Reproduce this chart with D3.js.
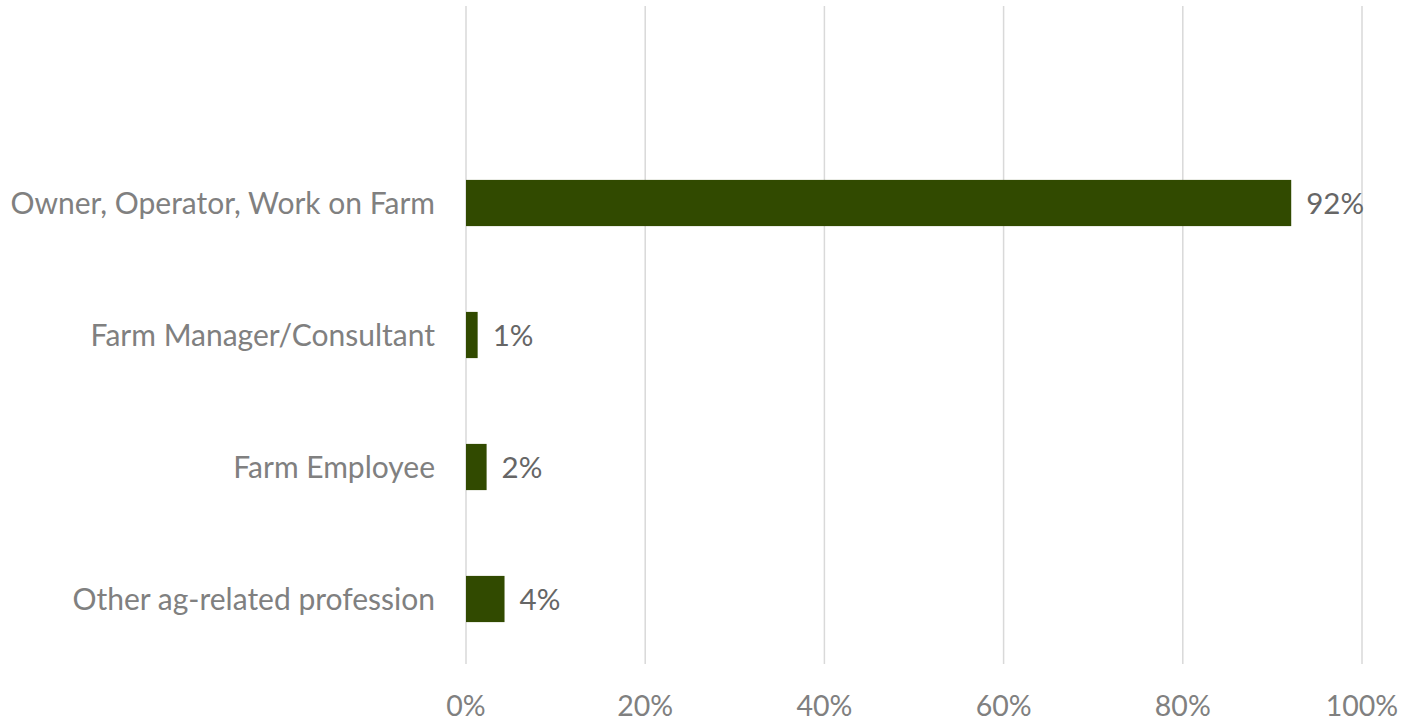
<!DOCTYPE html>
<html>
<head>
<meta charset="utf-8">
<script src="https://cdn.jsdelivr.net/npm/d3@7"></script>
<style>
  body { margin: 0; background: #fff; }
  text { font-family: "Lato", "Open Sans", sans-serif; }
</style>
</head>
<body>
<div id="chart"></div>
<script>
const categories = ['Owner, Operator, Work on Farm', 'Farm Manager/Consultant', 'Farm Employee', 'Other ag-related profession']
const values = [92.1, 1.3, 2.3, 4.3]
const labels = ['92%', '1%', '2%', '4%']
const ticks = [0, 20, 40, 60, 80, 100]

const width = 1411
const height = 723

const svg = d3.select('#chart').append('svg')
    .attr('width', width)
    .attr('height', height)

const x = d3.scaleLinear().domain([0, 100]).range([466, 1362])
const y = d3.scaleBand().domain(categories).range([137, 665])
    .paddingInner(0.65).paddingOuter(0.325)

// gridlines
svg.append('g').selectAll('line').data(ticks)
    .enter().append('line')
    .attr('x1', d => x(d)).attr('x2', d => x(d))
    .attr('y1', 6).attr('y2', 664)
    .attr('stroke', '#d9d9d9')
    .attr('stroke-width', 1.5)

// x tick labels
svg.append('g').selectAll('text').data(ticks)
    .enter().append('text')
    .attr('x', d => x(d))
    .attr('y', 716)
    .attr('text-anchor', 'middle')
    .attr('fill', '#808080')
    .style('font-size', '28.5px')
    .text(d => d + '%')

// bars
svg.append('g').selectAll('rect').data(values)
    .enter().append('rect')
    .attr('x', x(0))
    .attr('y', (d, i) => y(categories[i]))
    .attr('width', d => x(d) - x(0))
    .attr('height', y.bandwidth())
    .attr('fill', '#314a00')

// value labels
svg.append('g').selectAll('text').data(values)
    .enter().append('text')
    .attr('x', d => x(d) + 15)
    .attr('y', (d, i) => y(categories[i]) + y.bandwidth() / 2)
    .attr('dy', '0.36em')
    .attr('fill', '#666666')
    .style('font-size', '29.5px')
    .text((d, i) => labels[i])

// category labels
svg.append('g').selectAll('text').data(categories)
    .enter().append('text')
    .attr('x', 435)
    .attr('y', d => y(d) + y.bandwidth() / 2)
    .attr('dy', '0.36em')
    .attr('text-anchor', 'end')
    .attr('fill', '#808080')
    .style('font-size', '30px')
    .text(d => d)
</script>
</body>
</html>
